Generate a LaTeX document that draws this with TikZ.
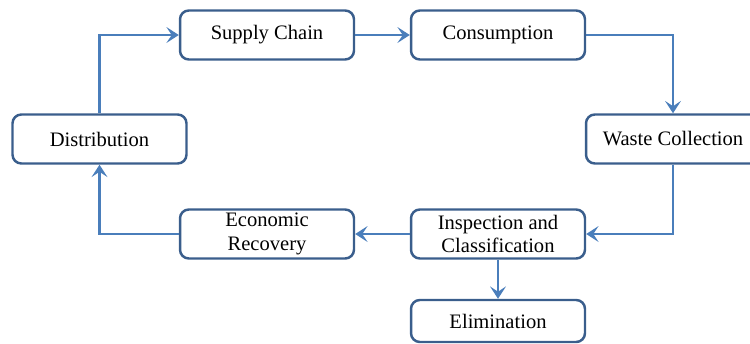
\documentclass[tikz,border=0pt]{standalone}
\usepackage{fontspec}
\setmainfont{Liberation Serif}
\usetikzlibrary{arrows.meta}

\definecolor{boxline}{RGB}{58,94,140}
\definecolor{flowline}{RGB}{74,126,187}

\tikzset{
  stage/.style={draw=boxline,line width=1.4pt,rounded corners=5pt,
    minimum width=3.48cm,minimum height=0.98cm,align=center,
    inner sep=1pt,font=\fontsize{11.7}{13.6}\selectfont},
  flow/.style={draw=flowline,line width=1.3pt,
    -{Stealth[length=7pt,width=9pt,inset=3pt]}}
}

\begin{document}
\begin{tikzpicture}[x=0.02cm,y=-0.02cm]
\useasboundingbox (0,0) rectangle (750,343);

\node[stage] (supply) at (267,35) {Supply Chain};
\node[stage] (consume) at (498,35) {Consumption};
\node[stage] (waste) at (673,139) {Waste Collection};
\node[stage] (distrib) at (99.5,139) {Distribution};
\node[stage] (recover) at (267,234) {Economic\\Recovery};
\node[stage] (inspect) at (498,234) {Inspection and\\Classification};
\node[stage,minimum height=0.84cm] (elim) at (498,321) {Elimination};

\draw[flow] (supply) -- (consume);
\draw[flow] (consume.east) -| (waste.north);
\draw[flow] (waste.south) |- (inspect.east);
\draw[flow] (inspect) -- (recover);
\draw[flow] (inspect) -- (elim);
\draw[flow] (recover.west) -| (distrib.south);
\draw[flow] (distrib.north) |- (supply.west);
\end{tikzpicture}
\end{document}
